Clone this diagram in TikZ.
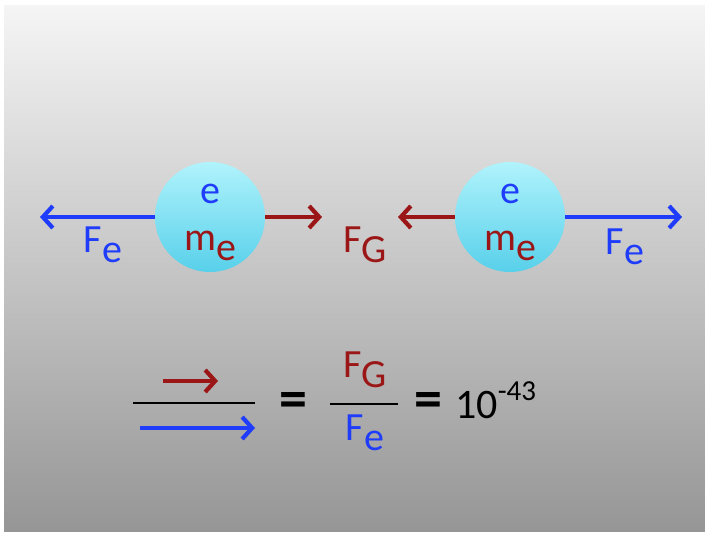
\documentclass[tikz,border=0pt]{standalone}
\usepackage{fontspec}
\setmainfont{Carlito}
\usetikzlibrary{arrows.meta}
\definecolor{eblue}{RGB}{30,60,250}
\definecolor{gred}{RGB}{155,22,22}
\definecolor{balltop}{RGB}{176,243,252}
\definecolor{ballbot}{RGB}{88,208,234}
\newcommand{\lowsub}[1]{\raisebox{-0.27em}{#1}}
\newcommand{\highsup}[1]{\raisebox{0.42em}{\fontsize{29}{29}\selectfont #1}}
\tikzset{
    ball/.style={circle, minimum size=110pt, inner sep=0pt, top color=balltop, bottom color=ballbot},
    lbl/.style={font=\fontsize{40}{46}\selectfont, inner sep=0pt},
    equal/.style={font=\fontsize{56}{60}\bfseries, inner sep=0pt},
    force/.style={line width=4.2pt, -{Straight Barb[length=10pt, width=22pt, line width=4.2pt]}},
    bar/.style={line width=2pt}
}

\begin{document}
\begin{tikzpicture}[x=1pt, y=-1pt]
\useasboundingbox (0,0) rectangle (705,533);
\shade[top color={rgb,255:red,245;green,245;blue,245}, bottom color={rgb,255:red,150;green,150;blue,150}] (4,5) rectangle (705,531);

% two electrons
\node[ball] (ballL) at (210,217) {};
\node[ball] (ballR) at (510,217) {};
\node[lbl, text=eblue, anchor=base] (chargeL) at (210,203) {e};
\node[lbl, text=gred, anchor=base] (massL) at (210,250) {m\lowsub{e}};
\node[lbl, text=eblue, anchor=base] (chargeR) at (510,203) {e};
\node[lbl, text=gred, anchor=base] (massR) at (510,250) {m\lowsub{e}};

% forces
\coordinate (tipLL) at (40,217);
\coordinate (tipLR) at (322,217);
\coordinate (tipRL) at (398,217);
\coordinate (tipRR) at (682,217);
\draw[force, eblue] (ballL.west) -- (tipLL);
\draw[force, gred] (ballL.east) -- (tipLR);
\draw[force, gred] (ballR.west) -- (tipRL);
\draw[force, eblue] (ballR.east) -- (tipRR);
\node[lbl, text=eblue, anchor=base] (feL) at (103,252) {F\lowsub{e}};
\node[lbl, text=gred, anchor=base] (fg) at (365,252) {F\lowsub{G}};
\node[lbl, text=eblue, anchor=base] (feR) at (625,254) {F\lowsub{e}};

% ratio
\coordinate (gA) at (163,381);
\coordinate (gB) at (218,381);
\coordinate (lineA) at (133,403);
\coordinate (lineB) at (255,403);
\coordinate (eA) at (140,428);
\coordinate (eB) at (255,428);
\draw[force, gred] (gA) -- (gB);
\draw[bar] (lineA) -- (lineB);
\draw[force, eblue] (eA) -- (eB);
\node[equal] (eq1) at (293,405) {=};
\node[lbl, text=gred, anchor=base] (num) at (365,377) {F\lowsub{G}};
\coordinate (fracA) at (330,404);
\coordinate (fracB) at (398,404);
\draw[bar] (fracA) -- (fracB);
\node[lbl, text=eblue, anchor=base] (den) at (365,440) {F\lowsub{e}};
\node[equal] (eq2) at (428,405) {=};
\node[lbl, font=\fontsize{42}{48}\selectfont, anchor=base west] (power) at (455,418) {10\highsup{-43}};
\end{tikzpicture}
\end{document}
